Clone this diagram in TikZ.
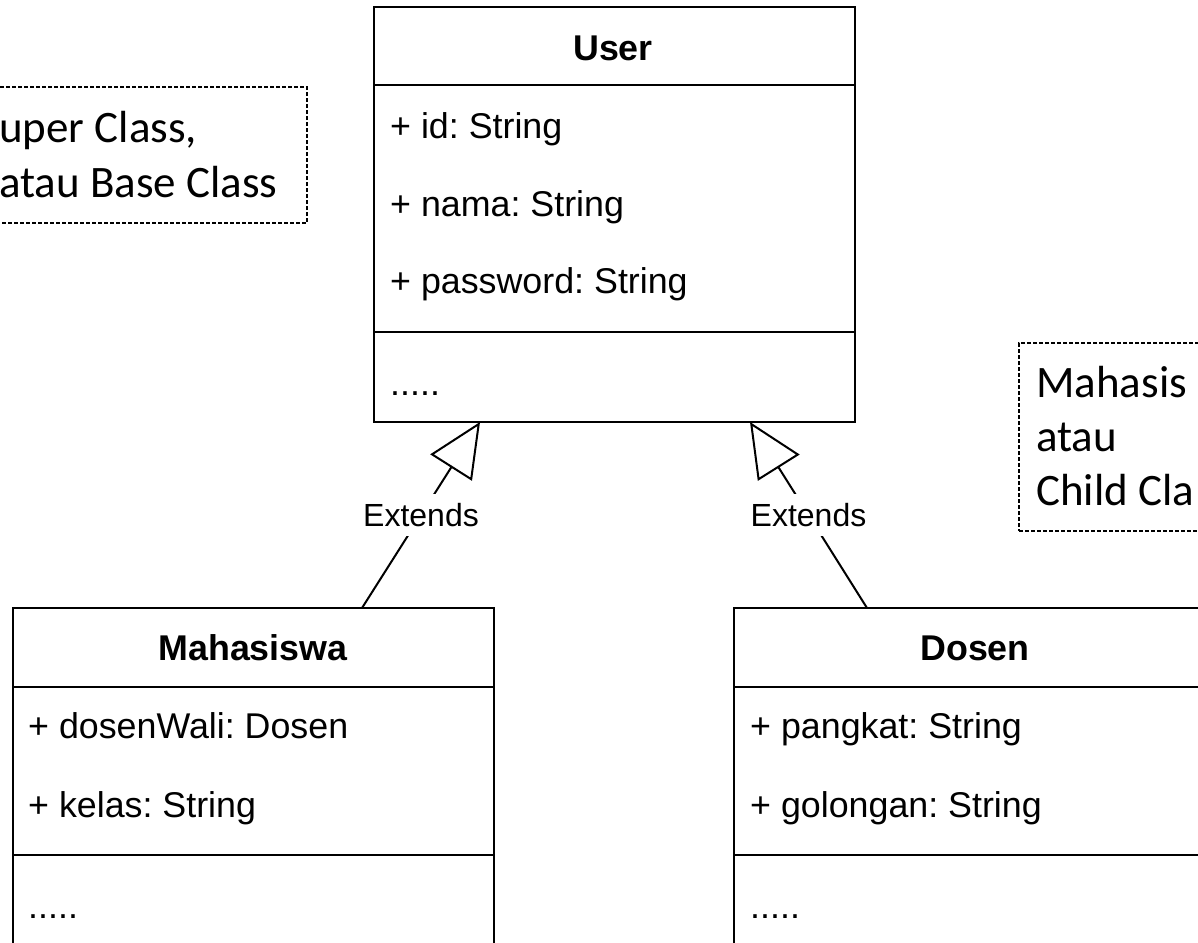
\documentclass[tikz,border=0pt]{standalone}
\usepackage{fontspec}
\setmainfont{Liberation Sans}
\newfontfamily\notefont{Carlito}
\usetikzlibrary{arrows.meta}
\frenchspacing
\begin{document}
\begin{tikzpicture}[x=1pt,y=-1pt,
  classbox/.style={draw, line width=2.4pt, minimum width=481pt, anchor=north west, inner sep=0pt, outer sep=0pt},
  sep/.style={line width=2.4pt},
  attr/.style={anchor=base west, inner sep=0pt, font={\fontsize{35.8}{42}\selectfont}},
  title/.style={anchor=base, inner sep=0pt, font={\fontsize{35.8}{42}\selectfont\bfseries}},
  notebox/.style={draw, dash pattern=on 4pt off 2pt, line width=1.2pt, anchor=north west, inner sep=0pt, outer sep=0pt},
  notetext/.style={anchor=base west, inner sep=0pt, font={\notefont\fontsize{45}{55}\selectfont}},
  ext/.style={line width=2pt, -{Triangle[open, length=54pt, width=49pt, line width=2pt]}},
  lbl/.style={fill=white, inner xsep=3pt, inner ysep=9pt, font={\fontsize{32}{38}\selectfont}}
]
\useasboundingbox (0,0) rectangle (1198,942);
\fill[white] (0,0) rectangle (1198,942);

% class boxes
\node[classbox, minimum height=415pt] (user) at (374,7) {};
\node[classbox, minimum height=345pt] (mhs) at (13,608) {};
\node[classbox, minimum height=345pt, minimum width=482pt] (dsn) at (734,608) {};

% compartments
\draw[sep] ([yshift=-78pt]user.north west) -- ([yshift=-78pt]user.north east);
\draw[sep] ([yshift=-325pt]user.north west) -- ([yshift=-325pt]user.north east);
\draw[sep] ([yshift=-79pt]mhs.north west) -- ([yshift=-79pt]mhs.north east);
\draw[sep] ([yshift=-247pt]mhs.north west) -- ([yshift=-247pt]mhs.north east);
\draw[sep] ([yshift=-79pt]dsn.north west) -- ([yshift=-79pt]dsn.north east);
\draw[sep] ([yshift=-247pt]dsn.north west) -- ([yshift=-247pt]dsn.north east);

% User texts
\node[title] (userT) at (613,60) {User};
\node[attr] (u1) at (390,138) {+ id: String};
\node[attr] (u2) at (390,216) {+ nama: String};
\node[attr] (u3) at (390,293) {+ password: String};
\node[attr] (u4) at (390,395) {.....};

% Mahasiswa texts
\node[title] (mhsT) at (253,660) {Mahasiswa};
\node[attr] (m1) at (28,738) {+ dosenWali: Dosen};
\node[attr] (m2) at (28,817) {+ kelas: String};
\node[attr] (m3) at (28,918) {.....};

% Dosen texts
\node[title] (dsnT) at (975,660) {Dosen};
\node[attr] (d1) at (750,738) {+ pangkat: String};
\node[attr] (d2) at (750,817) {+ golongan: String};
\node[attr] (d3) at (750,918) {.....};

% notes
\node[notebox, minimum width=317pt, minimum height=136pt] (note1) at (-10,87) {};
\node[notetext] (n1a) at (-1,142) {uper Class,};
\node[notetext] (n1b) at (-1,197) {atau Base Class};

\node[notebox, minimum width=200pt, minimum height=188pt] (note2) at (1019,343) {};
\node[notetext] (n2a) at (1036,397) {Mahasis};
\node[notetext] (n2b) at (1036,451) {atau};
\node[notetext] (n2c) at (1036,505) {Child Cla};

% generalisation connectors
\draw[ext] ([xshift=349pt]mhs.north west) -- node[lbl, midway] (e1) {Extends} ([xshift=106pt]user.south west);
\draw[ext] ([xshift=133pt]dsn.north west) -- node[lbl, midway] (e2) {Extends} ([xshift=376pt]user.south west);
\end{tikzpicture}
\end{document}
